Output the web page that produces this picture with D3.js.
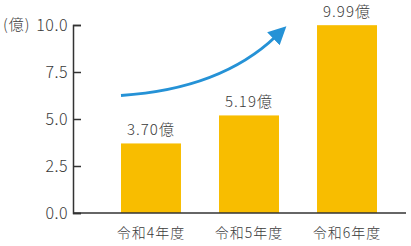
<!DOCTYPE html>
<html>
<head>
<meta charset="utf-8">
<script src="https://cdn.jsdelivr.net/npm/d3@7"></script>
<style>
  body { margin: 0; background: #fff; }
  text { font-family: "Noto Sans CJK JP", "Noto Sans", sans-serif; fill: #3a3a3a; font-weight: 300; }
</style>
</head>
<body>
<svg id="chart" width="411" height="246"></svg>
<script>
// data
const years = ['令和4年度', '令和5年度', '令和6年度'];
const amounts = [3.70, 5.19, 9.99];
const amountLabels = ['3.70億', '5.19億', '9.99億'];
const yTicks = [0, 2.5, 5, 7.5, 10];
const unitLabel = '(億)';

const svg = d3.select('#chart');
const plotLeft = 73, plotRight = 406, plotTop = 25, plotBottom = 213;

let x = d3.scaleBand()
    .domain(years)
    .range([121, 377])
    .paddingInner(0.388)
    .paddingOuter(0);

let y = d3.scaleLinear()
    .domain([0, 10])
    .range([plotBottom, plotTop]);

// bars
svg.append('g')
    .selectAll('rect')
    .data(amounts)
    .enter()
    .append('rect')
        .attr('x', (d, i) => x(years[i]))
        .attr('y', d => y(d))
        .attr('width', x.bandwidth())
        .attr('height', d => y(0) - y(d))
        .style('fill', '#f8bd00');

// value labels
svg.append('g')
    .selectAll('text')
    .data(amounts)
    .enter()
    .append('text')
        .attr('x', (d, i) => x(years[i]) + x.bandwidth() / 2)
        .attr('y', d => y(d) - 8)
        .attr('text-anchor', 'middle')
        .style('font-size', '15px')
        .style('letter-spacing', '1px')
        .text((d, i) => amountLabels[i]);

// y axis, ticks pointing inward
let yAxis = svg.append('g')
    .attr('transform', `translate(${plotLeft},0)`)
    .call(d3.axisLeft(y)
        .tickValues(yTicks)
        .tickFormat(d3.format('.1f'))
        .tickSize(-8)
        .tickPadding(5));

yAxis.selectAll('path, line').style('stroke', '#333').style('stroke-width', 1.5);
yAxis.selectAll('text')
    .style('font-size', '16px')
    .style('font-family', '"Noto Sans CJK JP", sans-serif')
    .style('font-weight', 300)
    .style('letter-spacing', '0.5px')
    .style('fill', '#3a3a3a');

svg.append('text')
    .attr('x', 3)
    .attr('y', y(10))
    .attr('dy', '0.35em')
    .style('font-size', '15px')
    .style('letter-spacing', '1px')
    .text(unitLabel);

// x axis
svg.append('line')
    .attr('x1', plotLeft)
    .attr('x2', plotRight)
    .attr('y1', y(0))
    .attr('y2', y(0))
    .style('stroke', '#333')
    .style('stroke-width', 1.5);

svg.append('g')
    .selectAll('text')
    .data(years)
    .enter()
    .append('text')
        .attr('x', d => x(d) + x.bandwidth() / 2)
        .attr('y', y(0) + 25)
        .attr('text-anchor', 'middle')
        .style('font-size', '14px')
        .style('letter-spacing', '1px')
        .text(d => d);

// growth arrow
svg.append('defs')
    .append('marker')
        .attr('id', 'head')
        .attr('viewBox', '0 0 10 10')
        .attr('refX', 2)
        .attr('refY', 5)
        .attr('markerWidth', 6)
        .attr('markerHeight', 6)
        .attr('markerUnits', 'strokeWidth')
        .attr('orient', 'auto')
        .append('path')
            .attr('d', 'M0,0L10,5L0,10Z')
            .style('fill', '#2592d6');

let x0 = x(years[0]), x1 = x(years[1]) + x.bandwidth();
let curve = d3.path();
curve.moveTo(x0, y(6.25));
curve.quadraticCurveTo(x0 + 100, y(6.6), x1 - 3, y(9.4));

svg.append('path')
    .attr('d', curve.toString())
    .style('fill', 'none')
    .style('stroke', '#2592d6')
    .style('stroke-width', 3)
    .attr('marker-end', 'url(#head)');
</script>
</body>
</html>
